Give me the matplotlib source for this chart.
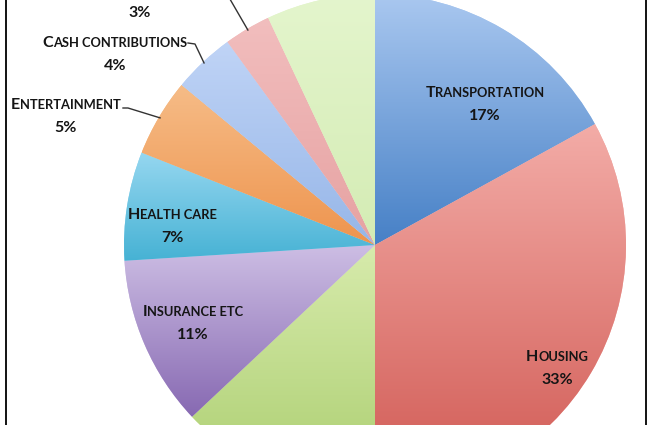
import numpy as np
import matplotlib.pyplot as plt
from matplotlib.lines import Line2D
from matplotlib.transforms import ScaledTranslation

# data, clockwise from the top
categories = ['Transportation', 'Housing', 'Food', 'Insurance etc', 'Health care',
              'Entertainment', 'Cash contributions', 'Apparel', 'Other']
shares = [17, 33, 13, 11, 7, 5, 4, 3, 7]

# gradient colours per slice (top, bottom)
light = [(170, 200, 240), (243, 172, 167), (215, 235, 172), (205, 190, 228), (150, 215, 240),
         (246, 188, 135), (192, 212, 246), (242, 190, 190), (228, 245, 205)]
dark = [(70, 128, 198), (208, 88, 82), (170, 205, 110), (135, 105, 178), (70, 178, 212),
        (238, 148, 78), (150, 182, 232), (230, 162, 162), (212, 236, 180)]

# label places in pixels (centre x, baseline of first line)
label_pos = {'Transportation': (485, 97), 'Housing': (557, 361), 'Insurance etc': (193, 316),
             'Health care': (172, 219), 'Entertainment': (66, 109),
             'Cash contributions': (115, 47), 'Apparel': (140, -6)}
# the apparel name sits above the visible area, only its percentage shows
name_hidden = {'Apparel'}
# leader lines: start of line near the text, elbow
leaders = {'Entertainment': [(123, 108), (128, 108)],
           'Cash contributions': [(188, 43), (195, 44)],
           'Apparel': [(226, -8), (227, -6)]}

W, H = 650, 425
R = 251.0
CX, CY = 375, 245


def px(x, y):
    return (x - CX) / R, (CY - y) / R


fig = plt.figure(figsize=(W / 100, H / 100), dpi=100)
ax = fig.add_axes([0, 0, 1, 1])

wedges, _ = ax.pie(shares, startangle=90, counterclock=False, radius=1,
                   wedgeprops=dict(linewidth=0))

t = np.linspace(0, 1, 256)[:, None, None]
for w, lc, dc in zip(wedges, light, dark):
    w.set_facecolor(np.array(lc) / 255)
    ext = w.get_path().get_extents()
    grad = (1 - t) * np.array(lc) / 255 + t * np.array(dc) / 255
    im = ax.imshow(grad, extent=[ext.x0, ext.x1, ext.y0, ext.y1], origin='upper',
                   aspect='auto', interpolation='bilinear', zorder=2)
    im.set_clip_path(w)

renderer = fig.canvas.get_renderer()
txt_color = '#151515'


def smallcaps(x, y, s, big=11.5, small=9.3):
    runs = []
    for ch in s:
        size = big if ch.isupper() else small
        if runs and runs[-1][1] == size:
            runs[-1][0] += ch.upper()
        else:
            runs.append([ch.upper(), size])
    texts = [ax.text(x, y, r, fontsize=sz, fontweight='bold', family='Lato',
                     va='baseline', ha='left', color=txt_color, zorder=5)
             for r, sz in runs]
    widths = [tx.get_window_extent(renderer).width for tx in texts]
    off = -sum(widths) / 2
    for tx, wd in zip(texts, widths):
        tx.set_transform(ax.transData + ScaledTranslation(off / fig.dpi, 0, fig.dpi_scale_trans))
        off += wd


for name, share in zip(categories, shares):
    if name not in label_pos:
        continue
    lx, ly = label_pos[name]
    if name not in name_hidden:
        smallcaps(*px(lx, ly), name)
    ax.text(*px(lx, ly + 23), f'{share}%', fontsize=11.5, fontweight='bold', family='Lato',
            ha='center', va='baseline', color=txt_color, zorder=5)

for w, name in zip(wedges, categories):
    if name not in leaders:
        continue
    mid = np.deg2rad((w.theta1 + w.theta2) / 2)
    pts = [px(*p) for p in leaders[name]] + [(0.995 * np.cos(mid), 0.995 * np.sin(mid))]
    xs, ys = zip(*pts)
    ax.plot(xs, ys, color='#333333', lw=1.0, zorder=6)

ax.set_xlim(-CX / R, (W - CX) / R)
ax.set_ylim((CY - H) / R, CY / R)
ax.set_aspect('auto')
ax.axis('off')

for xp in (5.5, 645.5):
    fig.add_artist(Line2D([xp / W, xp / W], [0, 1], color='black', lw=1.3))

fig.savefig('out.png', dpi=100)
